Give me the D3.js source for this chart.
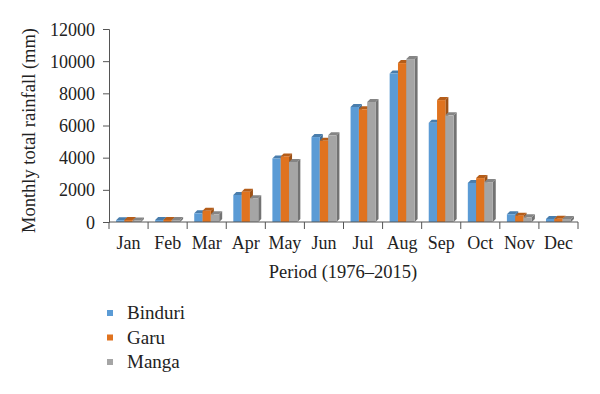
<!DOCTYPE html>
<html>
<head>
<meta charset="utf-8" />
<style>
html, body { margin: 0; padding: 0; background: #fff; }
text { font-family: "Liberation Serif", "DejaVu Serif", serif; fill: #222; }
</style>
</head>
<body>
<div id="chart"></div>
<script src="https://d3js.org/d3.v7.min.js"></script>
<script>
// data
var months = ["Jan","Feb","Mar","Apr","May","Jun","Jul","Aug","Sep","Oct","Nov","Dec"];
var series = ["Binduri","Garu","Manga"];
var binduri = [110, 120, 540, 1680, 3950, 5280, 7150, 9230, 6170, 2430, 480, 190];
var garu    = [120, 130, 700, 1880, 4080, 5050, 7010, 9880, 7580, 2730, 390, 200];
var manga   = [100, 120, 480, 1480, 3730, 5390, 7460, 10130, 6630, 2480, 290, 190];
var yTicks = [0, 2000, 4000, 6000, 8000, 10000, 12000];

var colors = {Binduri: "#5b9bd5", Garu: "#e0731f", Manga: "#a5a5a5"};
var values = {Binduri: binduri, Garu: garu, Manga: manga};

var W = 600, H = 394;
var m = {left: 109, right: 22, top: 29, bottom: 172};

var svg = d3.select("#chart").append("svg").attr("width", W).attr("height", H);

var x = d3.scaleBand().domain(months).range([m.left, W - m.right]);
var x1 = d3.scaleBand().domain(series).range([0, x.bandwidth()]).paddingOuter(0.85);
var y = d3.scaleLinear().domain([0, 12000]).range([H - m.bottom, m.top]);
var depth = 3;

// bars with a little 3d side and top
var g = svg.append("g");
months.forEach(function(mo, i){
	series.forEach(function(s){
		var v = values[s][i];
		var x0 = x(mo) + x1(s), w = x1.bandwidth();
		var top = y(v), base = y(0);
		var c = d3.color(colors[s]);
		g.append("path")
			.attr("d", "M" + (x0 + w) + "," + base + "L" + (x0 + w) + "," + top +
				"L" + (x0 + w + depth) + "," + (top - depth) + "L" + (x0 + w + depth) + "," + (base - depth) + "Z")
			.attr("fill", c.darker(1.0));
		g.append("path")
			.attr("d", "M" + x0 + "," + top + "L" + (x0 + depth) + "," + (top - depth) +
				"L" + (x0 + w + depth) + "," + (top - depth) + "L" + (x0 + w) + "," + top + "Z")
			.attr("fill", c.darker(0.6));
		g.append("rect")
			.attr("x", x0).attr("y", top)
			.attr("width", w).attr("height", base - top)
			.attr("fill", colors[s]);
	});
});

// y axis
var yAxis = svg.append("g")
	.attr("transform", "translate(" + m.left + ",0)")
	.call(d3.axisLeft(y).tickValues(yTicks).tickSize(6).tickPadding(8).tickFormat(d3.format("d")));
yAxis.selectAll("text").style("font-size", "18px").attr("dy", "0.34em");
yAxis.selectAll("line, path").attr("stroke", "#555");

// x axis, ticks at month boundaries
var xg = svg.append("g").attr("transform", "translate(0," + y(0) + ")");
xg.append("line").attr("x1", m.left).attr("x2", W - m.right).attr("stroke", "#555");
xg.selectAll(".b").data(months.concat(["end"])).enter().append("line")
	.attr("x1", function(d, i){ return i < 12 ? x(d) : x.range()[1]; })
	.attr("x2", function(d, i){ return i < 12 ? x(d) : x.range()[1]; })
	.attr("y1", 0).attr("y2", 7).attr("stroke", "#555");
xg.selectAll(".lab").data(months).enter().append("text")
	.attr("x", function(d){ return x(d) + x.bandwidth() / 2; })
	.attr("y", 27)
	.attr("text-anchor", "middle")
	.style("font-size", "18px")
	.text(function(d){ return d; });

svg.append("text")
	.attr("x", 343).attr("y", 278)
	.attr("text-anchor", "middle")
	.style("font-size", "18.5px")
	.text("Period (1976–2015)");

svg.append("text")
	.attr("transform", "translate(35," + ((y(0) + y(12000)) / 2 + 5) + ") rotate(-90)")
	.attr("text-anchor", "middle")
	.style("font-size", "18.5px")
	.text("Monthly total rainfall (mm)");

// legend
var lg = svg.append("g");
series.forEach(function(s, i){
	var ly = 313 + i * 24.5;
	lg.append("rect").attr("x", 107).attr("y", ly - 3).attr("width", 6).attr("height", 6).attr("fill", colors[s]);
	lg.append("text").attr("x", 127).attr("y", ly + 6).style("font-size", "19px").text(s);
});
</script>
</body>
</html>
